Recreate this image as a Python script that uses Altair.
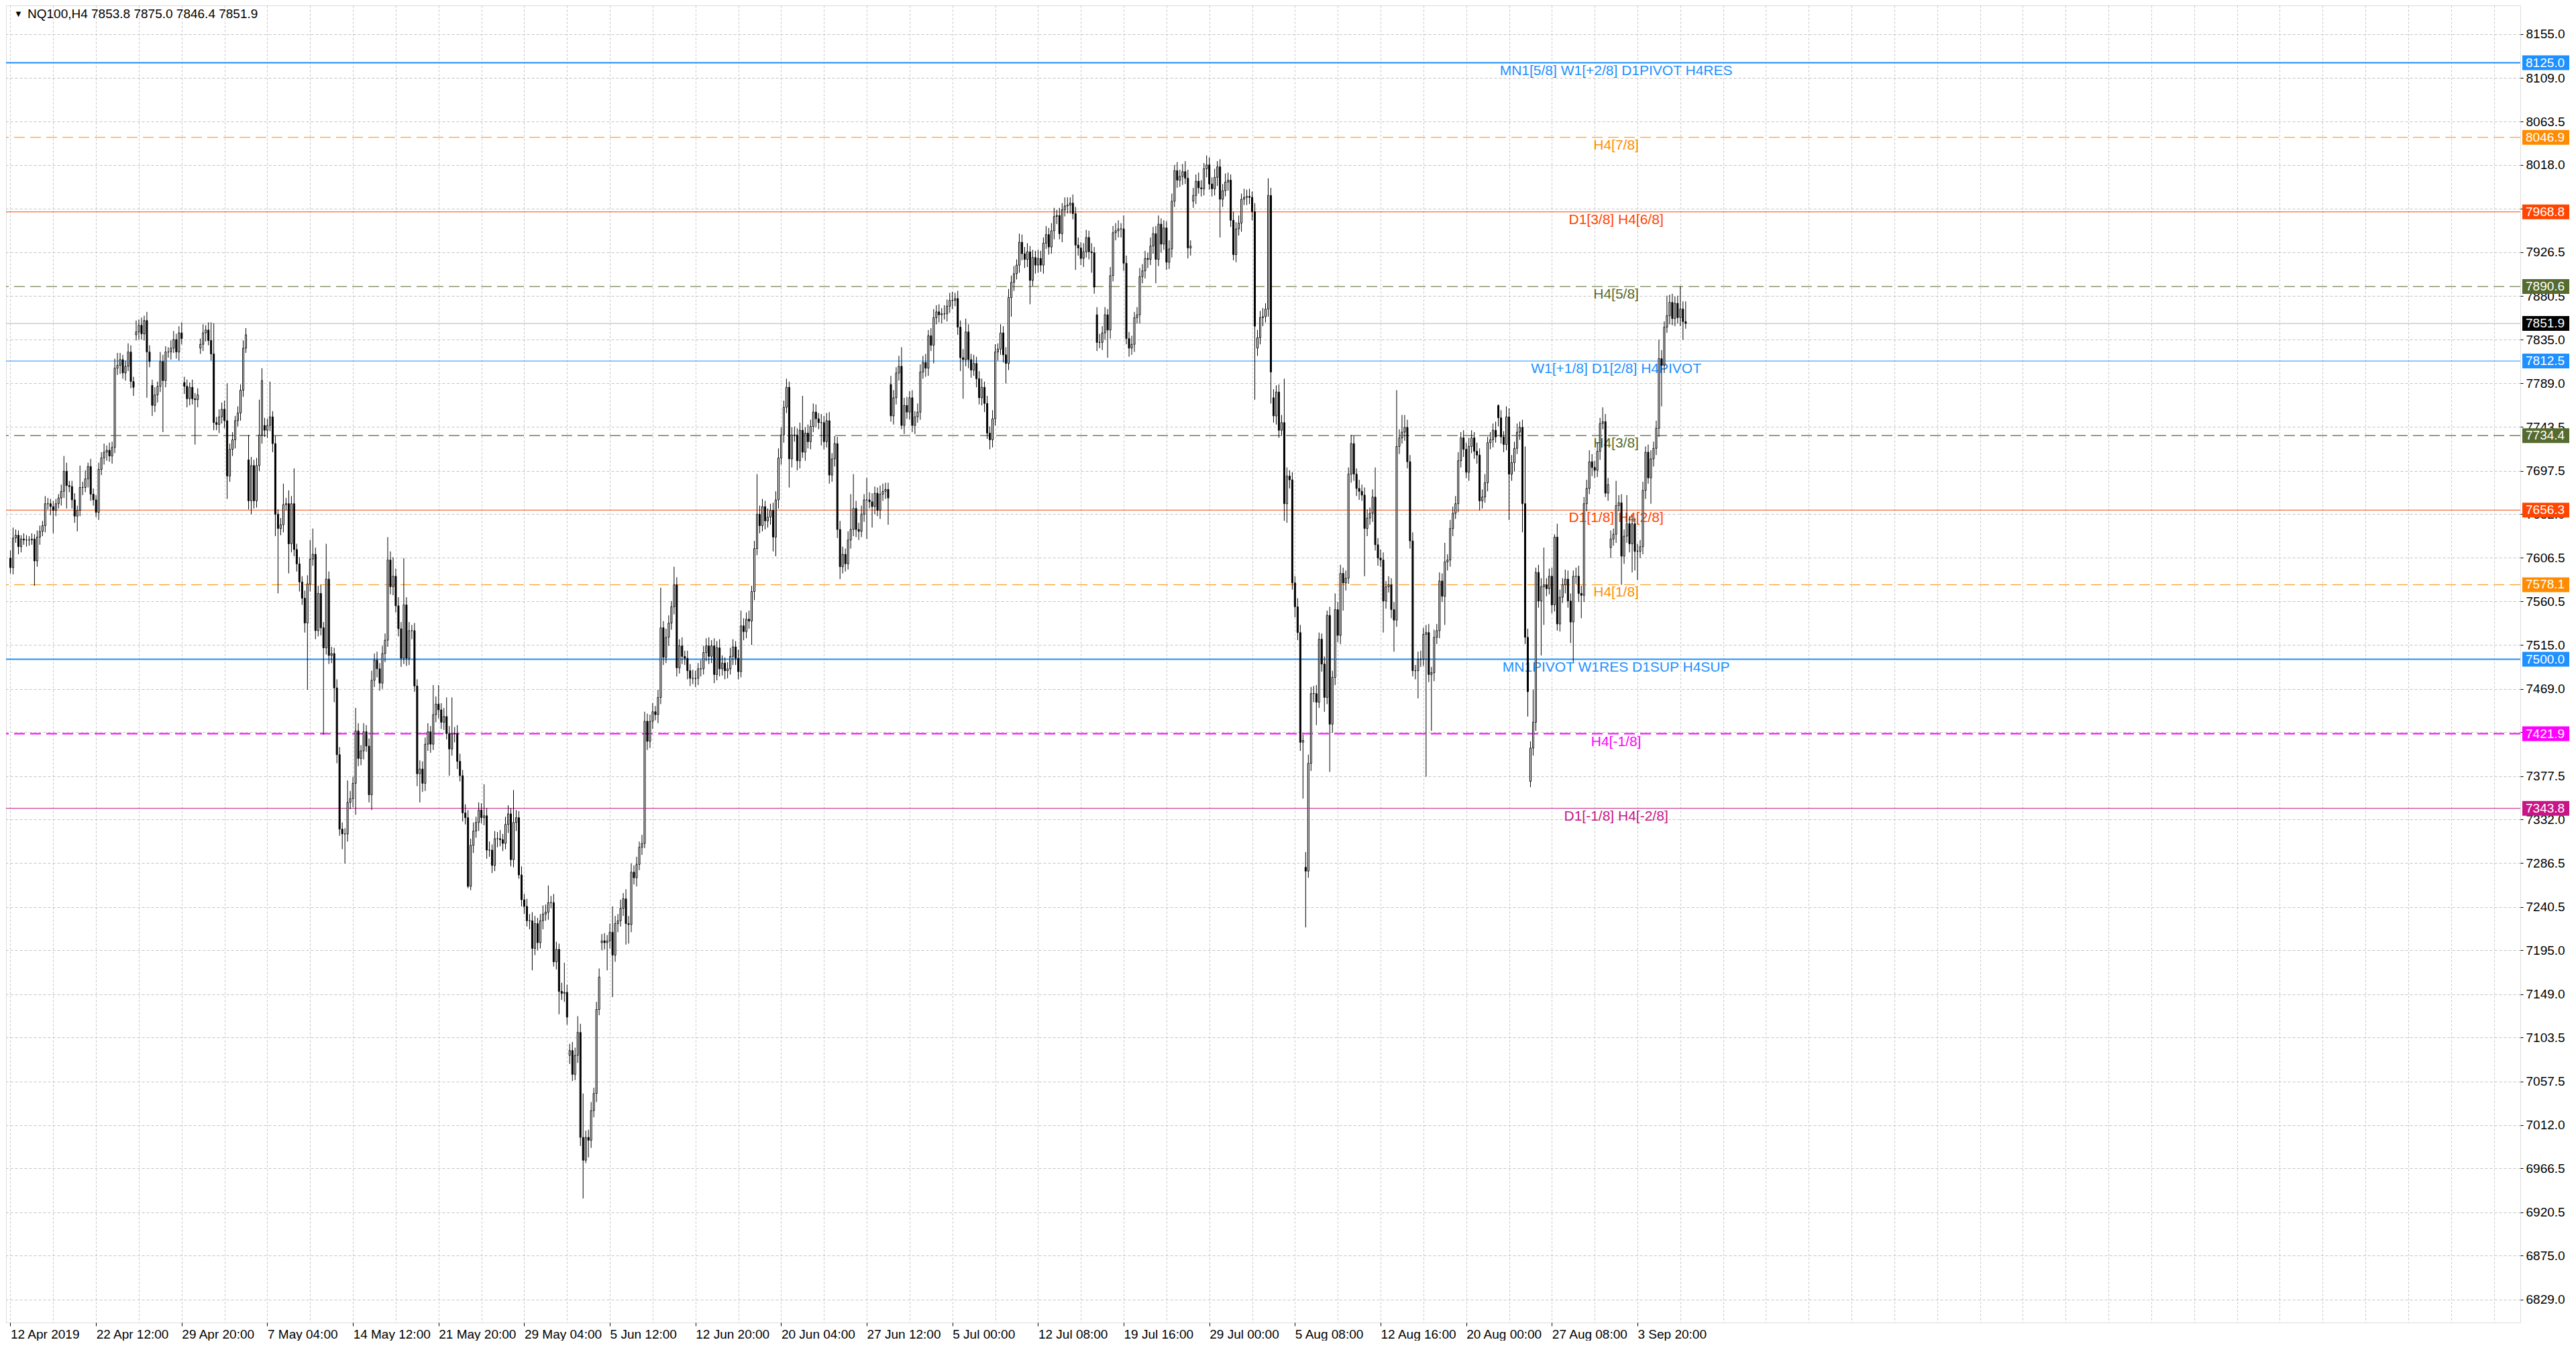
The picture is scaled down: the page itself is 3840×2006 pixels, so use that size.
import altair as alt
import pandas as pd

FONT = "Liberation Sans"

# ---------------- candle data (H4 bars, index 0 = 12 Apr 2019) ----------------
CLOSE_ROWS = [
    [7596, 7627, 7630, 7618, 7626, 7625, 7625, 7625, 7626, 7603, 7628, 7634, 7640, 7663, 7663, 7660],
    [7656, 7663, 7669, 7676, 7697, 7682, 7681, 7667, 7650, 7656, 7680, 7680, 7689, 7702, 7673, 7667],
    [7654, 7699, 7711, 7717, 7719, 7713, 7722, 7805, 7808, 7814, 7800, 7807, 7822, 7791, 7785, 7843],
    [7850, 7841, 7855, 7822, 7812, 7766, 7777, 7786, 7812, 7792, 7822, 7822, 7826, 7835, 7822, 7842],
    [7836, 7786, 7773, 7785, 7773, 7772, 7777, 7830, 7842, 7845, 7834, 7820, 7748, 7746, 7754, 7762],
    [7750, 7692, 7720, 7730, 7750, 7758, 7782, 7826, 7840, 7666, 7703, 7666, 7703, 7735, 7792, 7740],
    [7745, 7754, 7726, 7652, 7637, 7641, 7662, 7663, 7621, 7663, 7615, 7600, 7581, 7564, 7538, 7579],
    [7605, 7610, 7530, 7569, 7533, 7512, 7584, 7504, 7506, 7470, 7400, 7322, 7317, 7317, 7350, 7354],
    [7370, 7425, 7396, 7404, 7424, 7409, 7358, 7478, 7499, 7490, 7475, 7506, 7520, 7604, 7576, 7587],
    [7556, 7532, 7501, 7557, 7501, 7530, 7530, 7472, 7380, 7385, 7370, 7411, 7424, 7411, 7442, 7453],
    [7447, 7434, 7440, 7422, 7406, 7422, 7422, 7393, 7378, 7339, 7334, 7262, 7305, 7320, 7329, 7342],
    [7334, 7336, 7300, 7300, 7284, 7312, 7312, 7311, 7307, 7327, 7338, 7290, 7329, 7334, 7274, 7248],
    [7241, 7226, 7226, 7197, 7223, 7203, 7226, 7233, 7235, 7245, 7245, 7183, 7196, 7152, 7150, 7151],
    [7125, 7090, 7065, 7085, 7109, 6999, 6975, 6999, 6996, 7027, 7045, 7133, 7167, 7205, 7203, 7205],
    [7214, 7190, 7223, 7226, 7239, 7249, 7223, 7222, 7277, 7271, 7285, 7303, 7307, 7435, 7414, 7435],
    [7445, 7442, 7460, 7533, 7502, 7523, 7538, 7555, 7578, 7491, 7514, 7503, 7501, 7488, 7480, 7480],
    [7480, 7490, 7490, 7507, 7514, 7503, 7514, 7484, 7512, 7490, 7496, 7488, 7490, 7503, 7513, 7501],
    [7487, 7535, 7529, 7542, 7540, 7571, 7616, 7652, 7640, 7660, 7645, 7649, 7656, 7628, 7667, 7711],
    [7735, 7764, 7785, 7710, 7735, 7735, 7708, 7740, 7717, 7737, 7728, 7744, 7759, 7752, 7748, 7748],
    [7728, 7750, 7693, 7710, 7726, 7636, 7597, 7610, 7600, 7625, 7636, 7658, 7636, 7634, 7652, 7667],
    [7667, 7665, 7660, 7674, 7656, 7673, 7676, 7678, 7669, 7755, 7774, 7800, 7807, 7745, 7766, 7759],
    [7774, 7745, 7754, 7759, 7801, 7811, 7805, 7839, 7829, 7858, 7864, 7861, 7862, 7862, 7870, 7876],
    [7876, 7878, 7848, 7816, 7814, 7843, 7814, 7803, 7810, 7794, 7774, 7785, 7768, 7737, 7730, 7752],
    [7822, 7825, 7842, 7819, 7810, 7879, 7895, 7904, 7913, 7937, 7925, 7919, 7927, 7897, 7921, 7913],
    [7920, 7913, 7936, 7945, 7932, 7949, 7964, 7965, 7946, 7971, 7975, 7976, 7978, 7967, 7934, 7931],
    [7920, 7927, 7942, 7927, 7926, 7890, 7832, 7832, 7842, 7861, 7845, 7902, 7947, 7949, 7951, 7951],
    [7915, 7836, 7826, 7830, 7858, 7861, 7901, 7907, 7920, 7919, 7933, 7946, 7919, 7956, 7935, 7952],
    [7916, 7930, 7980, 8012, 8002, 8006, 8011, 8004, 7931, 7933, 7986, 8001, 7994, 7993, 8014, 8018],
    [7998, 7993, 8005, 8016, 7982, 7991, 8000, 8002, 7960, 7924, 7951, 7957, 7982, 7984, 7985, 7984],
    [7969, 7849, 7837, 7858, 7859, 7867, 7986, 7801, 7755, 7780, 7740, 7748, 7663, 7692, 7688, 7580],
    [7555, 7528, 7413, 7415, 7278, 7391, 7464, 7464, 7455, 7521, 7495, 7460, 7546, 7432, 7481, 7552],
    [7525, 7590, 7580, 7585, 7694, 7726, 7694, 7679, 7676, 7672, 7637, 7648, 7653, 7670, 7620, 7606],
    [7604, 7561, 7576, 7578, 7552, 7541, 7723, 7732, 7738, 7743, 7707, 7624, 7488, 7488, 7500, 7500],
    [7526, 7528, 7484, 7486, 7523, 7530, 7582, 7566, 7602, 7604, 7637, 7653, 7663, 7708, 7732, 7720],
    [7696, 7723, 7732, 7718, 7714, 7666, 7670, 7685, 7727, 7730, 7740, 7733, 7753, 7733, 7725, 7754],
    [7694, 7706, 7721, 7738, 7743, 7663, 7523, 7466, 7407, 7434, 7591, 7561, 7576, 7578, 7574, 7587],
    [7557, 7628, 7537, 7565, 7578, 7584, 7561, 7539, 7587, 7587, 7569, 7567, 7663, 7679, 7707, 7701],
    [7698, 7718, 7747, 7749, 7674, 7683, 7626, 7631, 7661, 7664, 7608, 7629, 7642, 7621, 7642, 7613],
    [7613, 7618, 7677, 7717, 7690, 7710, 7721, 7742, 7815, 7808, 7848, 7860, 7874, 7857, 7873, 7858],
    [7867, 7853.8, 7851.9],
]

# upper wick length above the body (points)
UP_ROWS = [
    [8, 11, 6, 5, 4, 6, 5, 4, 6, 5, 7, 6, 5, 8, 6, 5],
    [6, 5, 4, 7, 16, 9, 5, 6, 7, 5, 23, 6, 9, 4, 8, 6],
    [5, 7, 6, 9, 5, 8, 6, 10, 13, 7, 5, 6, 9, 7, 5, 12],
    [6, 8, 5, 9, 7, 6, 8, 5, 10, 7, 6, 5, 8, 9, 6, 7],
    [11, 6, 7, 5, 8, 6, 7, 6, 9, 5, 8, 19, 32, 6, 8, 7],
    [9, 39, 6, 8, 5, 7, 6, 8, 7, 26, 9, 6, 8, 37, 13, 8],
    [7, 37, 6, 8, 5, 7, 22, 6, 14, 8, 37, 6, 7, 6, 8, 9],
    [20, 27, 7, 8, 9, 6, 37, 8, 7, 6, 9, 8, 7, 6, 23, 8],
    [7, 24, 8, 6, 9, 7, 8, 10, 7, 9, 6, 8, 7, 24, 9, 20],
    [8, 9, 7, 49, 8, 9, 6, 8, 7, 9, 8, 7, 9, 6, 31, 8],
    [20, 7, 9, 20, 8, 38, 7, 9, 8, 6, 9, 8, 7, 9, 6, 8],
    [7, 33, 8, 9, 6, 8, 7, 9, 6, 8, 9, 6, 34, 8, 7, 9],
    [6, 8, 7, 9, 8, 6, 7, 9, 8, 18, 7, 9, 8, 6, 9, 31],
    [8, 7, 9, 8, 17, 9, 46, 7, 8, 9, 6, 8, 9, 7, 8, 6],
    [9, 27, 8, 7, 9, 6, 10, 8, 9, 7, 8, 6, 9, 10, 8, 7],
    [9, 6, 8, 42, 7, 9, 8, 6, 19, 8, 7, 9, 6, 8, 7, 9],
    [8, 6, 9, 7, 8, 9, 6, 8, 7, 9, 8, 6, 7, 9, 8, 6],
    [9, 16, 8, 7, 9, 6, 8, 42, 9, 8, 6, 9, 7, 8, 9, 10],
    [8, 7, 9, 6, 8, 9, 7, 8, 36, 6, 9, 7, 9, 8, 6, 9],
    [7, 8, 9, 6, 8, 7, 9, 8, 6, 9, 37, 36, 8, 7, 9, 6],
    [23, 8, 9, 7, 6, 9, 8, 7, 7, 9, 8, 6, 11, 20, 8, 9],
    [7, 8, 6, 9, 8, 7, 9, 6, 8, 9, 7, 8, 6, 9, 7, 8],
    [9, 6, 8, 7, 9, 14, 8, 6, 9, 7, 8, 9, 6, 8, 7, 9],
    [8, 6, 9, 7, 8, 9, 7, 8, 6, 9, 8, 7, 9, 6, 8, 7],
    [9, 8, 6, 9, 7, 8, 9, 6, 8, 7, 9, 8, 6, 9, 7, 8],
    [6, 9, 8, 7, 9, 6, 8, 9, 7, 8, 6, 9, 7, 8, 9, 6],
    [14, 8, 7, 9, 6, 8, 9, 7, 8, 6, 9, 7, 8, 9, 6, 8],
    [7, 9, 8, 6, 9, 7, 8, 11, 9, 6, 8, 7, 9, 8, 6, 10],
    [8, 7, 9, 6, 8, 7, 9, 8, 6, 9, 7, 8, 6, 9, 7, 8],
    [6, 9, 8, 7, 9, 6, 18, 8, 9, 7, 8, 8, 46, 9, 6, 8],
    [7, 9, 8, 6, 16, 9, 7, 8, 9, 7, 6, 8, 5, 9, 7, 17],
    [8, 9, 6, 8, 7, 9, 8, 6, 9, 7, 8, 9, 6, 8, 31, 7],
    [9, 8, 6, 9, 7, 8, 59, 9, 18, 13, 8, 7, 9, 6, 8, 9],
    [7, 8, 9, 6, 8, 7, 9, 8, 20, 6, 9, 7, 8, 9, 6, 8],
    [7, 9, 8, 6, 9, 7, 8, 9, 6, 8, 7, 9, 1, 8, 6, 11],
    [9, 8, 7, 9, 6, 8, 60, 9, 7, 34, 5, 8, 9, 39, 7, 8],
    [9, 3, 14, 8, 7, 10, 9, 8, 6, 9, 11, 8, 7, 9, 12, 8],
    [7, 9, 6, 15, 8, 7, 9, 6, 26, 8, 9, 7, 30, 8, 9, 6],
    [8, 7, 9, 6, 8, 9, 7, 8, 20, 9, 6, 21, 8, 9, 7, 8],
    [24, 8, 21.2],
]

# lower wick length below the body (points)
DN_ROWS = [
    [6, 7, 5, 8, 6, 5, 7, 6, 5, 26, 6, 8, 5, 7, 6, 9],
    [24, 6, 5, 8, 7, 24, 6, 9, 7, 16, 6, 8, 5, 9, 7, 6],
    [5, 8, 6, 7, 9, 6, 8, 6, 7, 9, 6, 8, 5, 7, 9, 6],
    [8, 6, 7, 48, 6, 11, 7, 8, 6, 54, 7, 6, 8, 5, 7, 9],
    [6, 8, 9, 7, 6, 47, 8, 6, 7, 9, 5, 7, 8, 6, 9, 7],
    [8, 24, 6, 7, 9, 6, 8, 7, 5, 9, 14, 8, 7, 6, 9, 7],
    [8, 6, 9, 23, 68, 7, 8, 6, 31, 9, 7, 8, 10, 7, 10, 70],
    [8, 7, 9, 6, 8, 91, 7, 9, 8, 15, 9, 7, 16, 31, 8, 7],
    [9, 33, 8, 7, 9, 6, 8, 16, 7, 9, 8, 6, 9, 7, 8, 9],
    [7, 8, 9, 6, 8, 7, 9, 6, 13, 30, 9, 8, 7, 9, 6, 8],
    [9, 7, 8, 6, 28, 7, 9, 8, 6, 9, 7, 2, 4, 8, 7, 9],
    [6, 8, 9, 7, 8, 6, 9, 7, 8, 6, 9, 7, 8, 9, 4, 7],
    [8, 6, 9, 23, 7, 8, 6, 9, 7, 8, 6, 5, 8, 24, 7, 9],
    [8, 9, 7, 6, 8, 9, 40, 3, 18, 8, 7, 9, 6, 8, 7, 29],
    [8, 44, 7, 9, 6, 8, 22, 20, 8, 7, 9, 6, 8, 5, 9, 7],
    [8, 6, 9, 7, 8, 6, 9, 7, 8, 9, 6, 8, 7, 9, 8, 6],
    [9, 7, 8, 6, 9, 8, 7, 9, 6, 8, 7, 9, 8, 6, 9, 7],
    [8, 6, 9, 7, 8, 25, 9, 7, 8, 6, 9, 7, 8, 15, 20, 9],
    [7, 8, 6, 30, 9, 7, 10, 8, 6, 9, 7, 8, 6, 9, 7, 24],
    [8, 6, 9, 7, 8, 9, 13, 7, 8, 6, 9, 7, 8, 9, 6, 8],
    [41, 7, 22, 8, 6, 9, 7, 8, 28, 6, 9, 7, 8, 4, 9, 7],
    [8, 7, 9, 6, 8, 7, 9, 8, 6, 19, 7, 8, 9, 6, 8, 7],
    [9, 6, 8, 14, 41, 7, 9, 8, 6, 9, 7, 8, 9, 6, 10, 8],
    [7, 9, 6, 8, 21, 7, 20, 9, 6, 8, 7, 9, 8, 25, 6, 9],
    [8, 7, 9, 6, 8, 7, 9, 8, 6, 9, 7, 8, 9, 6, 26, 8],
    [7, 9, 6, 8, 21, 7, 9, 6, 8, 7, 29, 9, 6, 8, 7, 9],
    [8, 6, 9, 7, 8, 6, 9, 7, 8, 9, 6, 8, 25, 7, 9, 6],
    [8, 7, 9, 6, 8, 7, 9, 6, 11, 8, 7, 9, 6, 8, 7, 9],
    [6, 8, 7, 9, 40, 8, 6, 9, 7, 6, 8, 7, 9, 6, 8, 7],
    [9, 77, 8, 7, 9, 6, 8, 33, 7, 9, 8, 6, 18, 20, 9, 7],
    [11, 8, 9, 59, 59, 7, 8, 9, 24, 6, 8, 15, 7, 50, 9, 8],
    [7, 9, 29, 8, 6, 9, 7, 8, 9, 6, 50, 8, 7, 9, 6, 8],
    [7, 33, 8, 6, 9, 33, 7, 8, 6, 9, 7, 8, 6, 9, 29, 8],
    [7, 149, 8, 59, 9, 7, 8, 6, 30, 9, 7, 8, 6, 9, 7, 8],
    [6, 9, 7, 8, 9, 10, 8, 6, 9, 7, 8, 6, 9, 7, 8, 6],
    [48, 7, 9, 6, 8, 30, 7, 26, 6, 8, 9, 7, 57, 40, 8, 6],
    [9, 7, 7, 8, 6, 9, 7, 22, 42, 8, 9, 24, 7, 8, 6, 9],
    [8, 7, 9, 6, 4, 8, 11, 7, 9, 6, 30, 8, 7, 9, 30, 20],
    [30, 7, 8, 9, 6, 27, 8, 7, 9, 43, 8, 6, 9, 7, 8, 6],
    [9, 19, 5.5],
]

FIRST_OPEN = 7606
# bars whose open gapped away from the previous close
GAP_OPENS = {47: 7840, 53: 7787, 65: 7790, 71: 7826, 89: 7709, 95: 7745, 209: 7085,
             221: 7203, 329: 7788, 406: 7861, 442: 7980, 466: 7826, 472: 7774,
             484: 7282, 556: 7766, 568: 7372, 598: 7617}

# ---------------- axes ----------------
DATE_LABELS = ["12 Apr 2019", "22 Apr 12:00", "29 Apr 20:00", "7 May 04:00", "14 May 12:00",
               "21 May 20:00", "29 May 04:00", "5 Jun 12:00", "12 Jun 20:00", "20 Jun 04:00",
               "27 Jun 12:00", "5 Jul 00:00", "12 Jul 08:00", "19 Jul 16:00", "29 Jul 00:00",
               "5 Aug 08:00", "12 Aug 16:00", "20 Aug 00:00", "27 Aug 08:00", "3 Sep 20:00"]
LABEL_STEP = 32
GRID_STEP = 16
Y_TICKS = [8155.0, 8109.0, 8063.5, 8018.0, 7972.0, 7926.5, 7880.5, 7835.0, 7789.0, 7743.5,
           7697.5, 7652.0, 7606.5, 7560.5, 7515.0, 7469.0, 7423.5, 7377.5, 7332.0, 7286.5,
           7240.5, 7195.0, 7149.0, 7103.5, 7057.5, 7012.0, 6966.5, 6920.5, 6875.0, 6829.0]

# ---------------- Murrey-math levels ----------------
LEVEL_PRICES = [8125.0, 8046.9, 7968.8, 7890.6, 7812.5, 7734.4, 7656.3, 7578.1, 7500.0, 7421.9, 7343.8]
LEVEL_TEXT = ["MN1[5/8] W1[+2/8] D1PIVOT H4RES", "H4[7/8]", "D1[3/8] H4[6/8]", "H4[5/8]",
              "W1[+1/8] D1[2/8] H4PIVOT", "H4[3/8]", "D1[1/8] H4[2/8]", "H4[1/8]",
              "MN1PIVOT W1RES D1SUP H4SUP", "H4[-1/8]", "D1[-1/8] H4[-2/8]"]
LEVEL_COLORS = ["#1E90FF", "#FF8C00", "#FF4500", "#556B2F", "#1E90FF", "#556B2F",
                "#FF4500", "#FF8C00", "#1E90FF", "#FF00FF", "#C71585"]
LEVEL_DASHED = [False, True, False, True, False, True, False, True, False, True, False]
LEVEL_WIDTH = [2, 1, 1, 1.2, 1, 1.2, 1, 1, 2, 2, 1]
LABEL_BAR = 600
SYMBOL = "NQ100,H4"

# ---------------- build tables ----------------
close = [v for r in CLOSE_ROWS for v in r]
up = [v for r in UP_ROWS for v in r]
dn = [v for r in DN_ROWS for v in r]
n = min(len(close), len(up), len(dn))

recs = []
for i in range(n):
    c = close[i]
    o = FIRST_OPEN if i == 0 else GAP_OPENS.get(i, close[i - 1])
    recs.append(dict(idx=i, open=o, close=c,
                     high=round(max(o, c) + up[i], 1), low=round(min(o, c) - dn[i], 1)))
candles = pd.DataFrame(recs)
last = recs[-1]

levels = pd.DataFrame(dict(price=LEVEL_PRICES, label=LEVEL_TEXT, color=LEVEL_COLORS,
                           dashed=LEVEL_DASHED, width=LEVEL_WIDTH))
boxdf = pd.DataFrame(dict(price=LEVEL_PRICES + [last["close"]],
                          color=LEVEL_COLORS + ["#000000"]))
boxdf["txt"] = [f"{p:.1f}" for p in boxdf["price"]]
lastdf = pd.DataFrame(dict(price=[last["close"]]))
title_str = f"{SYMBOL}  {last['open']:.1f} {last['high']:.1f} {last['low']:.1f} {last['close']:.1f}"
titledf = pd.DataFrame(dict(t=[title_str]))

# ---------------- chart ----------------
W, H = 3748, 1963
XS = alt.Scale(domain=[-0.375, 936.625], nice=False, zero=False)
YS = alt.Scale(domain=[6805.0, 8185.2], nice=False, zero=False)
GRID_C = "#C4C4C4"

arr = "[" + ",".join(f"'{s}'" for s in DATE_LABELS) + "]"
label_expr = (f"(datum.value % {LABEL_STEP} == 0 && datum.value / {LABEL_STEP} < {len(DATE_LABELS)})"
              f" ? {arr}[datum.value / {LABEL_STEP}] : ''")
tick_test = (f"datum.value % {LABEL_STEP} == 0 && datum.value / {LABEL_STEP} < {len(DATE_LABELS)}")

X_AXIS = alt.Axis(values=list(range(0, 937, GRID_STEP)), labelExpr=label_expr, grid=True,
                  gridColor=GRID_C, gridDash=[3, 3], gridWidth=1, domain=False, ticks=True,
                  tickColor="black", tickSize=5,
                  tickOpacity={"condition": {"test": tick_test, "value": 1}, "value": 0},
                  labelAlign="left", labelBaseline="top",
                  labelPadding=3, labelFont=FONT, labelFontSize=19, labelColor="black",
                  labelFlush=False, labelOverlap=False, labelBound=False, title=None)
Y_AXIS = alt.Axis(orient="right", values=Y_TICKS, format=".1f", grid=True, gridColor=GRID_C,
                  gridDash=[4, 3], gridWidth=1, domain=False, ticks=True, tickColor="black",
                  tickSize=4, labelPadding=4, labelFont=FONT, labelFontSize=19,
                  labelColor="black", labelAlign="left", labelBaseline="middle",
                  labelOverlap=False, labelFlush=False, labelBound=False, title=None)


def ypos(field):
    return alt.Y(field, type="quantitative", scale=YS, axis=Y_AXIS)


def xpos(field):
    return alt.X(field, type="quantitative", scale=XS, axis=X_AXIS)


solid_rules = alt.Chart(levels[~levels["dashed"]]).mark_rule().encode(
    y=ypos("price"), color=alt.Color("color:N", scale=None),
    strokeWidth=alt.StrokeWidth("width:Q", scale=None))
dashed_rules = alt.Chart(levels[levels["dashed"]]).mark_rule(strokeDash=[16, 8]).encode(
    y=ypos("price"), color=alt.Color("color:N", scale=None),
    strokeWidth=alt.StrokeWidth("width:Q", scale=None))
last_rule = alt.Chart(lastdf).mark_rule(color="#B4B4B4", strokeWidth=1).encode(y=ypos("price"))

level_text = alt.Chart(levels).mark_text(align="center", baseline="top", dy=1, font=FONT,
                                         fontSize=21).encode(
    x=alt.XDatum(LABEL_BAR, type="quantitative", scale=XS, axis=X_AXIS),
    y=ypos("price"), text="label:N", color=alt.Color("color:N", scale=None))

wicks = alt.Chart(candles).mark_rule(color="black", strokeWidth=1).encode(
    x=xpos("idx"), y=ypos("low"), y2="high:Q")
bodies = alt.Chart(candles).mark_bar(size=2, stroke="black", strokeWidth=1).encode(
    x=xpos("idx"), y=ypos("open"), y2="close:Q",
    fill=alt.condition("datum.close >= datum.open", alt.value("white"), alt.value("black")))

BOX_PATH = "M-1,-0.3143L1,-0.3143L1,0.3143L-1,0.3143Z"
boxes = alt.Chart(boxdf).mark_point(shape=BOX_PATH, size=4900, filled=True, opacity=1,
                                    strokeWidth=0).encode(
    x=alt.value(W + 38), y=ypos("price"), color=alt.Color("color:N", scale=None))
box_text = alt.Chart(boxdf).mark_text(align="left", baseline="middle", font=FONT, fontSize=19,
                                      color="white").encode(
    x=alt.value(W + 8), y=ypos("price"), text="txt:N")

title_txt = alt.Chart(titledf).mark_text(align="left", baseline="middle", font=FONT,
                                         fontSize=19, color="black").encode(
    x=alt.value(32), y=alt.value(13), text="t:N")
tri = alt.Chart(titledf).mark_text(align="left", baseline="middle", fontSize=13,
                                   color="black", text="\u25BC").encode(
    x=alt.value(12), y=alt.value(13))

chart = alt.layer(solid_rules, dashed_rules, last_rule, level_text, wicks, bodies, boxes,
                  box_text, title_txt, tri).properties(
    width=W, height=H, padding={"left": 0, "top": 0, "right": 0, "bottom": 0}
).configure_view(stroke="black", strokeWidth=1).configure(background="white", font=FONT)

chart.save("out.html", embed_options={"renderer": "svg", "actions": False})
